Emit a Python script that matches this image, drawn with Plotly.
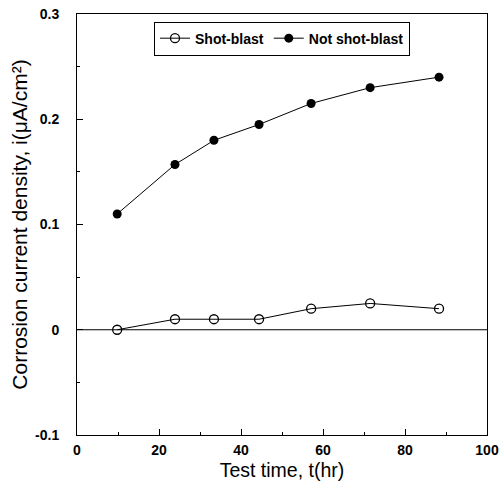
import plotly.graph_objects as go

time_hr = [9.8, 23.9, 33.4, 44.4, 57.1, 71.5, 88.3]
shot_blast = [0.0, 0.01, 0.01, 0.01, 0.02, 0.025, 0.02]
not_shot_blast = [0.11, 0.157, 0.18, 0.195, 0.215, 0.23, 0.24]

fig = go.Figure()
fig.add_trace(go.Scatter(x=time_hr, y=shot_blast, mode="lines+markers", name="<b>Shot-blast</b>",
                         line=dict(color="black", width=1),
                         marker=dict(symbol="circle-open", size=9, color="black", line=dict(width=1.3))))
fig.add_trace(go.Scatter(x=time_hr, y=not_shot_blast, mode="lines+markers", name="<b>Not shot-blast</b>",
                         line=dict(color="black", width=1),
                         marker=dict(symbol="circle", size=9, color="black")))

fig.add_hline(y=0, line=dict(color="black", width=1))

axis_common = dict(showline=True, linecolor="black", linewidth=1, mirror=True, ticks="inside",
                   ticklen=6, tickcolor="black", showgrid=False, zeroline=False, automargin=False,
                   ticklabeloverflow="allow",
                   tickfont=dict(family="Liberation Sans, Arial", size=14, color="black", weight="bold"))
fig.update_xaxes(range=[0, 100], dtick=20, ticklabelstandoff=2,
                 title=dict(text="Test time, t(hr)", font=dict(size=19.5), standoff=6),
                 minor=dict(dtick=10, ticks="inside", ticklen=3, tickcolor="black"), **axis_common)
fig.update_yaxes(range=[-0.1, 0.3], ticklabelstandoff=14,
                 title=dict(text="Corrosion current density, i(μA/cm²)", font=dict(size=21), standoff=1),
                 tickvals=[-0.1, 0, 0.1, 0.2, 0.3], ticktext=["-0.1", "0", "0.1", "0.2", "0.3"],
                 minor=dict(tickvals=[-0.05, 0.05, 0.15, 0.25], ticks="inside", ticklen=3, tickcolor="black"), **axis_common)

fig.update_layout(width=499, height=485, margin=dict(l=77, r=12, t=14, b=50, autoexpand=False),
                  plot_bgcolor="white", paper_bgcolor="white",
                  font=dict(family="Liberation Sans, Arial", color="black", size=14),
                  legend=dict(orientation="h", x=0.5, xanchor="center", y=0.982, yanchor="top",
                              bordercolor="black", borderwidth=1, bgcolor="white",
                              font=dict(size=14), itemwidth=30))
fig.write_html("out.html", config={"displayModeBar": False},
               post_script="document.body.style.margin='0';")
